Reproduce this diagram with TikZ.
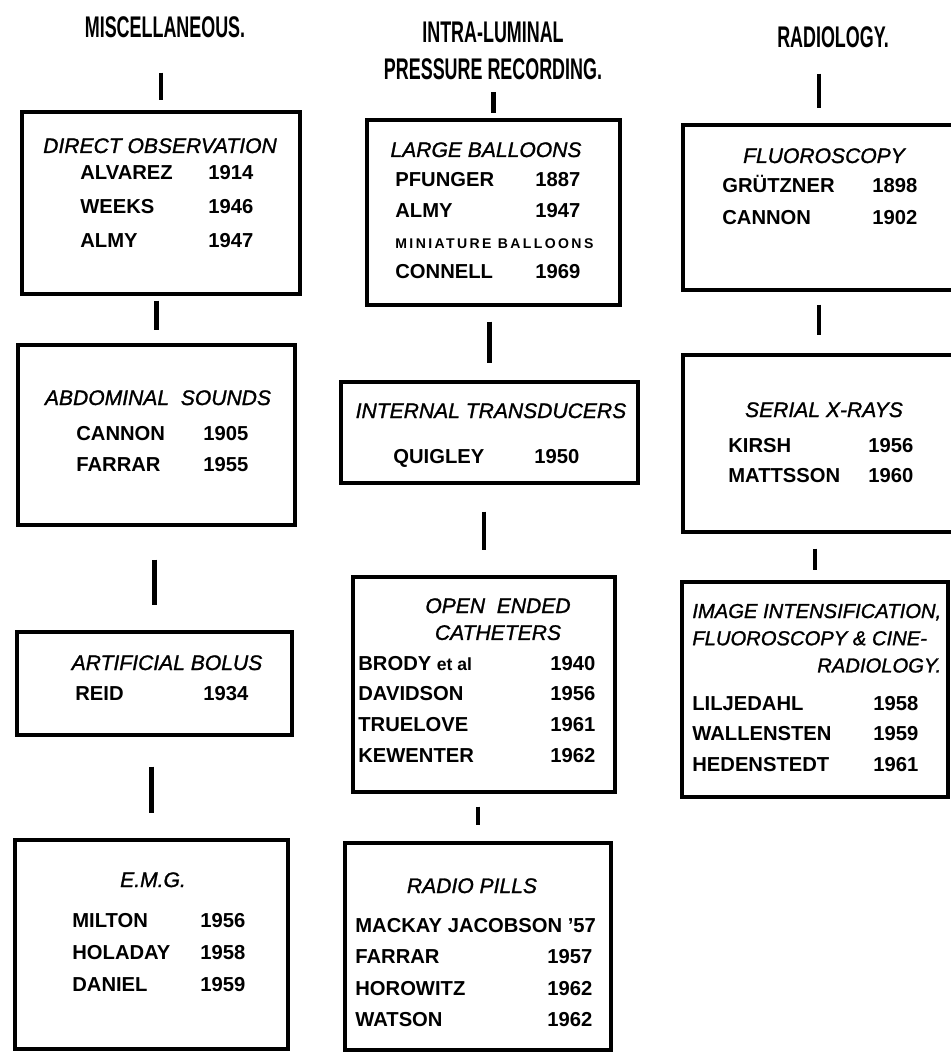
\documentclass[tikz,border=0pt]{standalone}
\usepackage{fontspec}
\setmainfont{Liberation Sans}
\newfontfamily\headfont[FakeStretch=0.6]{Liberation Sans}
\newfontfamily\titlefont[FakeBold=1.2]{Liberation Sans}
\newfontfamily\balloonfont[LetterSpace=17]{Liberation Sans}
\usepackage{tikz}

\begin{document}
\begin{tikzpicture}[
        % one unit = one pixel of the chart
        x=0.02cm, y=-0.02cm,
        % Styles for boxes and texts
        box/.style={draw, line width=1.8pt, inner sep=0pt},
        link/.style={line width=2.8pt},
        headtext/.style={inner sep=0pt, anchor=base, font=\headfont\bfseries\fontsize{17}{21}\selectfont},
        titletext/.style={inner sep=0pt, anchor=base, font=\titlefont\itshape\fontsize{12}{15.3}\selectfont},
        rowtext/.style={inner sep=0pt, anchor=base west, font=\bfseries\fontsize{11.5}{#1}\selectfont},
        rowtext/.default=18.2
    ]
        \useasboundingbox (0,0) rectangle (950,1054);

        % --- HEADINGS ---
        \node[headtext] (misc) at (165,38) {MISCELLANEOUS.};
        \node[headtext] (intra) at (493,43) {\begin{tabular}[t]{@{}c@{}}INTRA-LUMINAL\\PRESSURE RECORDING.\end{tabular}};
        \node[headtext] (radio) at (833,48) {RADIOLOGY.};

        % --- MISCELLANEOUS ---
        \node[box, minimum width=5.56cm, minimum height=3.64cm] (m1) at (161,203) {};
        \node[titletext] (m1t) at (160,153) {DIRECT OBSERVATION};
        \node[rowtext=19.3] (m1r) at (80,180) {\begin{tabular}[t]{@{}p{2.56cm}@{}l@{}}
            ALVAREZ & 1914\\ WEEKS & 1946\\ ALMY & 1947\end{tabular}};

        \node[box, minimum width=5.54cm, minimum height=3.6cm] (m2) at (156.5,435) {};
        \node[titletext] (m2t) at (158,405) {ABDOMINAL\ \ SOUNDS};
        \node[rowtext] (m2r) at (76,440) {\begin{tabular}[t]{@{}p{2.54cm}@{}l@{}}
            CANNON & 1905\\ FARRAR & 1955\end{tabular}};

        \node[box, minimum width=5.5cm, minimum height=2.06cm] (m3) at (154.5,683.5) {};
        \node[titletext] (m3t) at (167,670) {ARTIFICIAL BOLUS};
        \node[rowtext] (m3r) at (75,700) {\begin{tabular}[t]{@{}p{2.56cm}@{}l@{}}
            REID & 1934\end{tabular}};

        \node[box, minimum width=5.46cm, minimum height=4.18cm] (m4) at (151.5,944.5) {};
        \node[titletext] (m4t) at (153,887) {E.M.G.};
        \node[rowtext=18.4] (m4r) at (72,927) {\begin{tabular}[t]{@{}p{2.56cm}@{}l@{}}
            MILTON & 1956\\ HOLADAY & 1958\\ DANIEL & 1959\end{tabular}};

        % --- INTRA-LUMINAL PRESSURE RECORDING ---
        \node[box, minimum width=5.06cm, minimum height=3.7cm] (p1) at (493.5,212.5) {};
        \node[titletext] (p1t) at (486,157) {LARGE BALLOONS};
        \node[rowtext=17.4] (p1r) at (395,187) {\begin{tabular}[t]{@{}p{2.8cm}@{}l@{}}
            PFUNGER & 1887\\ ALMY & 1947\\
            \multicolumn{2}{@{}l@{}}{\balloonfont\bfseries\fontsize{8}{10}\selectfont MINIATURE BALLOONS}\\
            CONNELL & 1969\end{tabular}};

        \node[box, minimum width=5.94cm, minimum height=2.02cm] (p2) at (489.5,432.5) {};
        \node[titletext] (p2t) at (491,418) {INTERNAL TRANSDUCERS};
        \node[rowtext] (p2r) at (393,463) {\begin{tabular}[t]{@{}p{2.82cm}@{}l@{}}
            QUIGLEY & 1950\end{tabular}};

        \node[box, minimum width=5.24cm, minimum height=4.3cm] (p3) at (484,684.5) {};
        \node[titletext] (p3t) at (498,613) {\begin{tabular}[t]{@{}c@{}}OPEN\ \ ENDED\\CATHETERS\end{tabular}};
        \node[rowtext=17.6] (p3r) at (358,670) {\begin{tabular}[t]{@{}p{3.84cm}@{}l@{}}
            BRODY {\fontsize{10}{12}\selectfont et al} & 1940\\ DAVIDSON & 1956\\
            TRUELOVE & 1961\\ KEWENTER & 1962\end{tabular}};

        \node[box, minimum width=5.32cm, minimum height=4.14cm] (p4) at (478,946.5) {};
        \node[titletext] (p4t) at (472,893) {RADIO PILLS};
        \node[rowtext=18] (p4r) at (355,932) {\begin{tabular}[t]{@{}p{3.84cm}@{}l@{}}
            \multicolumn{2}{@{}l@{}}{MACKAY JACOBSON '57}\\ FARRAR & 1957\\
            HOROWITZ & 1962\\ WATSON & 1962\end{tabular}};

        % --- RADIOLOGY ---
        \node[box, minimum width=5.44cm, minimum height=3.3cm] (r1) at (819,207.5) {};
        \node[titletext] (r1t) at (824,163) {FLUOROSCOPY};
        \node[rowtext] (r1r) at (722,193) {\begin{tabular}[t]{@{}p{3cm}@{}l@{}}
            GRÜTZNER & 1898\\ CANNON & 1902\end{tabular}};

        \node[box, minimum width=5.44cm, minimum height=3.54cm] (r2) at (819,443.5) {};
        \node[titletext] (r2t) at (824,417) {SERIAL X-RAYS};
        \node[rowtext=17.6] (r2r) at (728,452) {\begin{tabular}[t]{@{}p{2.8cm}@{}l@{}}
            KIRSH & 1956\\ MATTSSON & 1960\end{tabular}};

        \node[box, minimum width=5.32cm, minimum height=4.3cm] (r3) at (815,689.5) {};
        \node[titletext, anchor=base west, font=\titlefont\itshape\fontsize{11.5}{15.5}\selectfont] (r3t) at (692,618)
            {\begin{tabular}[t]{@{}l@{}}IMAGE INTENSIFICATION,\\FLUOROSCOPY \& CINE-\\\hfill RADIOLOGY.\end{tabular}};
        \node[rowtext=17.6] (r3r) at (692,710) {\begin{tabular}[t]{@{}p{3.62cm}@{}l@{}}
            LILJEDAHL & 1958\\ WALLENSTEN & 1959\\ HEDENSTEDT & 1961\end{tabular}};

        % --- CONNECTORS ---
        \draw[link, shorten <=0.68cm, shorten >=0.2cm] (m1.north |- misc.south) -- (m1.north);
        \draw[link, shorten <=0.1cm, shorten >=0.26cm] (m2.north |- m1.south) -- (m2.north);
        \draw[link, shorten <=0.66cm, shorten >=0.5cm] (m3.north |- m2.south) -- (m3.north);
        \draw[link, shorten <=0.6cm, shorten >=0.5cm] (m4.north |- m3.south) -- (m4.north);

        \draw[link, shorten <=0.02cm, shorten >=0.1cm] (p1.north |- intra.south) -- (p1.north);
        \draw[link, shorten <=0.3cm, shorten >=0.34cm] (p2.north |- p1.south) -- (p2.north);
        \draw[link, shorten <=0.54cm, shorten >=0.5cm] (p3.north |- p2.south) -- (p3.north);
        \draw[link, shorten <=0.26cm, shorten >=0.32cm] (p4.north |- p3.south) -- (p4.north);

        \draw[link, shorten <=0.5cm, shorten >=0.3cm] (r1.north |- radio.south) -- (r1.north);
        \draw[link, shorten <=0.26cm, shorten >=0.36cm] (r2.north |- r1.south) -- (r2.north);
        \draw[link, shorten <=0.3cm, shorten >=0.2cm] (r3.north |- r2.south) -- (r3.north);

    \end{tikzpicture}
\end{document}
